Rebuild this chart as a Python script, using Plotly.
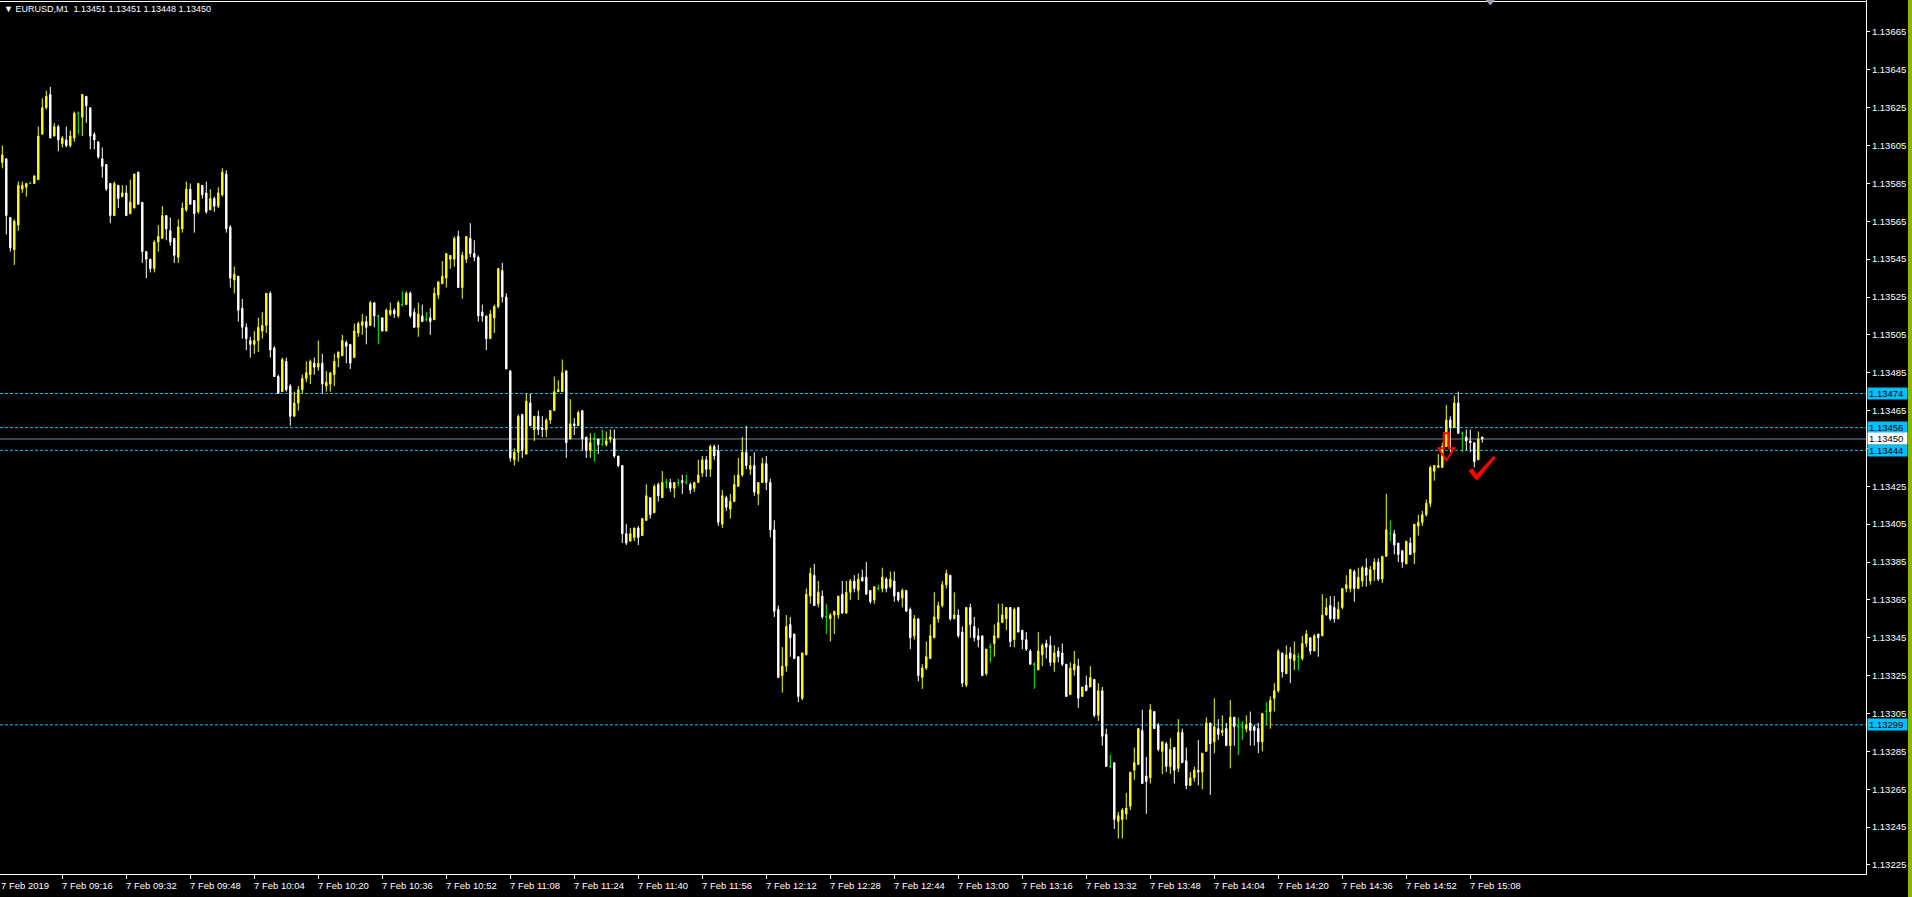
import plotly.graph_objects as go

# ---------------- data (EURUSD M1, 7 Feb 2019, bar index 0 = 09:00) ----------------
open_ = [
1.13596,1.13598,1.13567,1.13550,1.13563,1.13582,1.13583,1.13585,1.13585,1.13587,
1.13611,1.13625,1.13632,1.13610,1.13615,1.13606,1.13608,1.13605,1.13609,1.13622,
1.13620,1.13631,1.13625,1.13611,1.13607,1.13598,1.13595,1.13585,1.13568,1.13584,
1.13578,1.13580,1.13569,1.13572,1.13591,1.13575,1.13549,1.13545,1.13540,1.13554,
1.13556,1.13568,1.13560,1.13556,1.13546,1.13561,1.13571,1.13582,1.13576,1.13570,
1.13584,1.13580,1.13571,1.13577,1.13573,1.13579,1.13590,1.13562,1.13534,1.13536,
1.13519,1.13509,1.13502,1.13500,1.13502,1.13507,1.13510,1.13527,1.13498,1.13483,
1.13475,1.13491,1.13478,1.13462,1.13469,1.13476,1.13482,1.13484,1.13490,1.13488,
1.13490,1.13478,1.13479,1.13484,1.13493,1.13494,1.13501,1.13500,1.13493,1.13506,
1.13510,1.13512,1.13510,1.13522,1.13515,1.13514,1.13507,1.13516,1.13518,1.13515,
1.13521,1.13521,1.13527,1.13517,1.13509,1.13515,1.13513,1.13514,1.13513,1.13526,
1.13532,1.13535,1.13545,1.13545,1.13557,1.13530,1.13545,1.13556,1.13548,1.13546,
1.13517,1.13515,1.13503,1.13514,1.13520,1.13539,1.13525,1.13486,1.13439,1.13443,
1.13463,1.13442,1.13469,1.13455,1.13462,1.13456,1.13455,1.13460,1.13465,1.13475,
1.13475,1.13486,1.13450,1.13458,1.13457,1.13465,1.13451,1.13444,1.13450,1.13450,
1.13447,1.13447,1.13450,1.13450,1.13441,1.13436,1.13400,1.13396,1.13398,1.13403,
1.13399,1.13407,1.13419,1.13411,1.13426,1.13419,1.13427,1.13427,1.13424,1.13427,
1.13428,1.13427,1.13426,1.13424,1.13427,1.13432,1.13439,1.13434,1.13446,1.13444,
1.13405,1.13419,1.13413,1.13417,1.13425,1.13431,1.13443,1.13434,1.13436,1.13421,
1.13427,1.13437,1.13427,1.13402,1.13360,1.13325,1.13330,1.13352,1.13347,1.13335,
1.13313,1.13336,1.13367,1.13378,1.13363,1.13367,1.13356,1.13355,1.13357,1.13357,
1.13368,1.13358,1.13369,1.13375,1.13370,1.13377,1.13377,1.13370,1.13365,1.13371,
1.13371,1.13376,1.13372,1.13375,1.13369,1.13366,1.13370,1.13360,1.13346,1.13355,
1.13324,1.13329,1.13334,1.13345,1.13355,1.13362,1.13373,1.13378,1.13355,1.13357,
1.13348,1.13320,1.13361,1.13351,1.13346,1.13346,1.13326,1.13340,1.13342,1.13345,
1.13353,1.13355,1.13361,1.13344,1.13361,1.13349,1.13344,1.13338,1.13331,1.13328,
1.13336,1.13342,1.13341,1.13332,1.13338,1.13337,1.13331,1.13315,1.13328,1.13330,
1.13314,1.13320,1.13319,1.13323,1.13304,1.13317,1.13294,1.13277,1.13279,1.13248,
1.13249,1.13252,1.13256,1.13275,1.13278,1.13296,1.13272,1.13271,1.13306,1.13299,
1.13285,1.13289,1.13277,1.13287,1.13276,1.13295,1.13280,1.13267,1.13271,1.13275,
1.13274,1.13285,1.13300,1.13290,1.13297,1.13295,1.13297,1.13288,1.13303,1.13298,
1.13298,1.13297,1.13300,1.13298,1.13297,1.13290,1.13306,1.13306,1.13313,1.13317,
1.13337,1.13326,1.13337,1.13333,1.13335,1.13334,1.13342,1.13345,1.13338,1.13347,
1.13346,1.13357,1.13362,1.13361,1.13355,1.13361,1.13371,1.13371,1.13380,1.13371,
1.13375,1.13382,1.13375,1.13381,1.13385,1.13376,1.13388,1.13400,1.13400,1.13395,
1.13391,1.13384,1.13395,1.13390,1.13404,1.13406,1.13410,1.13416,1.13433,1.13435,
1.13435,1.13446,1.13460,1.13456,1.13469,1.13453,1.13451,1.13449,1.13448,1.13439,
1.13451]
high = [
1.13605,1.13598,1.13567,1.13566,1.13586,1.13586,1.13585,1.13586,1.13589,1.13615,
1.13630,1.13634,1.13636,1.13617,1.13616,1.13610,1.13615,1.13613,1.13623,1.13623,
1.13632,1.13631,1.13625,1.13612,1.13607,1.13604,1.13595,1.13585,1.13586,1.13584,
1.13584,1.13584,1.13587,1.13590,1.13591,1.13575,1.13549,1.13545,1.13555,1.13563,
1.13573,1.13568,1.13567,1.13556,1.13566,1.13575,1.13586,1.13585,1.13576,1.13585,
1.13584,1.13586,1.13582,1.13578,1.13583,1.13593,1.13592,1.13563,1.13541,1.13536,
1.13524,1.13511,1.13504,1.13507,1.13514,1.13517,1.13527,1.13528,1.13499,1.13484,
1.13493,1.13493,1.13479,1.13475,1.13478,1.13484,1.13491,1.13492,1.13493,1.13502,
1.13495,1.13486,1.13485,1.13495,1.13496,1.13505,1.13502,1.13500,1.13511,1.13512,
1.13516,1.13515,1.13523,1.13522,1.13515,1.13514,1.13519,1.13522,1.13519,1.13523,
1.13528,1.13528,1.13528,1.13519,1.13522,1.13521,1.13517,1.13519,1.13530,1.13533,
1.13544,1.13548,1.13547,1.13557,1.13560,1.13549,1.13557,1.13564,1.13555,1.13547,
1.13521,1.13515,1.13518,1.13521,1.13540,1.13543,1.13527,1.13486,1.13445,1.13463,
1.13463,1.13474,1.13474,1.13462,1.13465,1.13462,1.13461,1.13465,1.13483,1.13481,
1.13492,1.13486,1.13471,1.13461,1.13465,1.13465,1.13451,1.13453,1.13453,1.13450,
1.13455,1.13454,1.13455,1.13455,1.13441,1.13436,1.13405,1.13403,1.13403,1.13404,
1.13408,1.13426,1.13419,1.13426,1.13427,1.13433,1.13429,1.13429,1.13427,1.13429,
1.13431,1.13431,1.13427,1.13427,1.13439,1.13441,1.13441,1.13447,1.13447,1.13447,
1.13423,1.13420,1.13421,1.13431,1.13440,1.13451,1.13457,1.13441,1.13443,1.13427,
1.13440,1.13441,1.13429,1.13407,1.13362,1.13340,1.13357,1.13356,1.13347,1.13335,
1.13337,1.13371,1.13382,1.13384,1.13375,1.13370,1.13363,1.13358,1.13359,1.13367,
1.13375,1.13375,1.13376,1.13378,1.13379,1.13381,1.13385,1.13370,1.13372,1.13373,
1.13382,1.13377,1.13380,1.13380,1.13369,1.13371,1.13370,1.13361,1.13357,1.13355,
1.13331,1.13343,1.13352,1.13369,1.13364,1.13375,1.13381,1.13378,1.13369,1.13360,
1.13351,1.13361,1.13363,1.13356,1.13350,1.13346,1.13339,1.13342,1.13352,1.13363,
1.13363,1.13361,1.13361,1.13361,1.13361,1.13349,1.13348,1.13339,1.13332,1.13348,
1.13342,1.13344,1.13346,1.13341,1.13340,1.13342,1.13331,1.13332,1.13338,1.13334,
1.13319,1.13325,1.13330,1.13323,1.13321,1.13319,1.13297,1.13283,1.13279,1.13253,
1.13255,1.13263,1.13274,1.13287,1.13297,1.13307,1.13282,1.13310,1.13306,1.13300,
1.13290,1.13290,1.13292,1.13287,1.13302,1.13297,1.13287,1.13274,1.13277,1.13291,
1.13284,1.13303,1.13300,1.13313,1.13302,1.13304,1.13300,1.13312,1.13303,1.13303,
1.13301,1.13304,1.13306,1.13299,1.13300,1.13305,1.13311,1.13314,1.13321,1.13339,
1.13337,1.13341,1.13340,1.13343,1.13337,1.13346,1.13349,1.13345,1.13347,1.13347,
1.13368,1.13366,1.13367,1.13367,1.13364,1.13371,1.13378,1.13381,1.13381,1.13382,
1.13383,1.13387,1.13383,1.13387,1.13387,1.13388,1.13421,1.13407,1.13402,1.13395,
1.13391,1.13396,1.13398,1.13405,1.13410,1.13412,1.13418,1.13436,1.13436,1.13442,
1.13448,1.13468,1.13462,1.13473,1.13475,1.13454,1.13455,1.13455,1.13448,1.13454,
1.13451]
low = [
1.13593,1.13558,1.13549,1.13542,1.13560,1.13580,1.13578,1.13585,1.13585,1.13587,
1.13611,1.13624,1.13609,1.13610,1.13602,1.13604,1.13604,1.13604,1.13607,1.13611,
1.13610,1.13617,1.13603,1.13603,1.13598,1.13588,1.13581,1.13564,1.13568,1.13572,
1.13578,1.13568,1.13569,1.13572,1.13574,1.13543,1.13535,1.13538,1.13538,1.13549,
1.13556,1.13555,1.13552,1.13543,1.13543,1.13559,1.13570,1.13574,1.13559,1.13569,
1.13577,1.13569,1.13571,1.13570,1.13572,1.13578,1.13559,1.13530,1.13527,1.13512,
1.13503,1.13497,1.13493,1.13495,1.13496,1.13503,1.13506,1.13493,1.13483,1.13474,
1.13475,1.13475,1.13457,1.13462,1.13465,1.13474,1.13480,1.13479,1.13484,1.13486,
1.13474,1.13475,1.13475,1.13478,1.13488,1.13494,1.13490,1.13487,1.13493,1.13504,
1.13505,1.13500,1.13510,1.13509,1.13500,1.13507,1.13507,1.13515,1.13514,1.13514,
1.13520,1.13521,1.13514,1.13509,1.13504,1.13512,1.13512,1.13505,1.13513,1.13524,
1.13532,1.13530,1.13540,1.13541,1.13530,1.13524,1.13543,1.13546,1.13544,1.13512,
1.13512,1.13497,1.13503,1.13506,1.13519,1.13522,1.13487,1.13438,1.13436,1.13438,
1.13440,1.13442,1.13457,1.13449,1.13452,1.13451,1.13451,1.13458,1.13465,1.13475,
1.13475,1.13440,1.13450,1.13452,1.13457,1.13444,1.13440,1.13440,1.13438,1.13442,
1.13447,1.13446,1.13448,1.13440,1.13435,1.13395,1.13394,1.13396,1.13396,1.13394,
1.13399,1.13407,1.13408,1.13411,1.13417,1.13419,1.13424,1.13422,1.13419,1.13425,
1.13421,1.13426,1.13421,1.13422,1.13427,1.13430,1.13430,1.13430,1.13439,1.13404,
1.13403,1.13412,1.13408,1.13417,1.13425,1.13430,1.13434,1.13431,1.13420,1.13415,
1.13427,1.13423,1.13398,1.13356,1.13324,1.13316,1.13327,1.13335,1.13334,1.13311,
1.13312,1.13336,1.13363,1.13362,1.13361,1.13355,1.13347,1.13343,1.13347,1.13355,
1.13358,1.13358,1.13365,1.13369,1.13365,1.13375,1.13368,1.13363,1.13363,1.13370,
1.13369,1.13369,1.13371,1.13364,1.13364,1.13361,1.13359,1.13339,1.13344,1.13322,
1.13318,1.13328,1.13334,1.13345,1.13353,1.13361,1.13371,1.13354,1.13355,1.13345,
1.13319,1.13319,1.13345,1.13343,1.13340,1.13325,1.13325,1.13332,1.13335,1.13345,
1.13353,1.13349,1.13340,1.13340,1.13348,1.13339,1.13338,1.13331,1.13318,1.13328,
1.13330,1.13334,1.13330,1.13327,1.13332,1.13330,1.13314,1.13315,1.13325,1.13308,
1.13314,1.13317,1.13319,1.13303,1.13301,1.13288,1.13277,1.13276,1.13244,1.13239,
1.13239,1.13249,1.13254,1.13270,1.13278,1.13268,1.13252,1.13268,1.13297,1.13285,
1.13273,1.13274,1.13273,1.13268,1.13274,1.13279,1.13265,1.13267,1.13269,1.13267,
1.13265,1.13285,1.13262,1.13284,1.13291,1.13293,1.13288,1.13276,1.13288,1.13283,
1.13291,1.13295,1.13288,1.13288,1.13284,1.13285,1.13299,1.13297,1.13306,1.13316,
1.13324,1.13326,1.13321,1.13328,1.13328,1.13333,1.13340,1.13336,1.13338,1.13335,
1.13346,1.13357,1.13354,1.13353,1.13355,1.13360,1.13369,1.13369,1.13364,1.13371,
1.13372,1.13372,1.13373,1.13375,1.13375,1.13374,1.13388,1.13396,1.13389,1.13385,
1.13382,1.13384,1.13389,1.13384,1.13399,1.13404,1.13409,1.13414,1.13428,1.13435,
1.13435,1.13446,1.13443,1.13456,1.13453,1.13443,1.13444,1.13443,1.13435,1.13439,
1.13448]
close = [
1.13600,1.13568,1.13551,1.13565,1.13584,1.13584,1.13585,1.13585,1.13589,1.13610,
1.13625,1.13631,1.13609,1.13615,1.13608,1.13609,1.13605,1.13610,1.13622,1.13622,
1.13632,1.13626,1.13610,1.13608,1.13599,1.13594,1.13582,1.13568,1.13585,1.13577,
1.13580,1.13568,1.13575,1.13590,1.13574,1.13549,1.13545,1.13540,1.13554,1.13557,
1.13568,1.13561,1.13554,1.13547,1.13562,1.13572,1.13582,1.13574,1.13569,1.13585,
1.13579,1.13570,1.13577,1.13573,1.13580,1.13591,1.13561,1.13535,1.13537,1.13518,
1.13509,1.13503,1.13500,1.13502,1.13509,1.13510,1.13527,1.13497,1.13483,1.13474,
1.13492,1.13476,1.13462,1.13469,1.13476,1.13482,1.13485,1.13491,1.13488,1.13490,
1.13479,1.13480,1.13485,1.13491,1.13496,1.13502,1.13499,1.13490,1.13507,1.13511,
1.13512,1.13509,1.13522,1.13515,1.13515,1.13507,1.13518,1.13518,1.13516,1.13522,
1.13521,1.13527,1.13515,1.13509,1.13516,1.13512,1.13513,1.13512,1.13527,1.13533,
1.13536,1.13548,1.13547,1.13556,1.13530,1.13547,1.13557,1.13548,1.13546,1.13515,
1.13515,1.13503,1.13516,1.13520,1.13540,1.13525,1.13487,1.13440,1.13443,1.13462,
1.13444,1.13470,1.13457,1.13462,1.13455,1.13455,1.13460,1.13465,1.13475,1.13476,
1.13485,1.13448,1.13458,1.13457,1.13464,1.13450,1.13444,1.13448,1.13450,1.13447,
1.13447,1.13449,1.13451,1.13441,1.13436,1.13400,1.13395,1.13400,1.13403,1.13398,
1.13408,1.13420,1.13410,1.13425,1.13420,1.13427,1.13427,1.13424,1.13427,1.13427,
1.13427,1.13427,1.13423,1.13427,1.13431,1.13439,1.13434,1.13446,1.13441,1.13406,
1.13420,1.13414,1.13417,1.13426,1.13431,1.13443,1.13436,1.13436,1.13422,1.13427,
1.13437,1.13427,1.13402,1.13359,1.13324,1.13330,1.13351,1.13345,1.13334,1.13314,
1.13337,1.13368,1.13379,1.13362,1.13369,1.13356,1.13356,1.13357,1.13359,1.13367,
1.13358,1.13369,1.13375,1.13371,1.13376,1.13375,1.13368,1.13364,1.13372,1.13371,
1.13377,1.13371,1.13376,1.13367,1.13365,1.13370,1.13359,1.13345,1.13355,1.13325,
1.13329,1.13335,1.13346,1.13356,1.13362,1.13373,1.13379,1.13355,1.13357,1.13346,
1.13321,1.13361,1.13352,1.13345,1.13344,1.13325,1.13339,1.13340,1.13346,1.13353,
1.13357,1.13361,1.13343,1.13360,1.13348,1.13344,1.13339,1.13331,1.13331,1.13338,
1.13341,1.13340,1.13332,1.13337,1.13335,1.13331,1.13314,1.13329,1.13331,1.13313,
1.13319,1.13317,1.13324,1.13304,1.13317,1.13293,1.13277,1.13277,1.13249,1.13251,
1.13254,1.13255,1.13274,1.13279,1.13297,1.13268,1.13269,1.13307,1.13297,1.13286,
1.13290,1.13277,1.13286,1.13275,1.13295,1.13279,1.13267,1.13271,1.13275,1.13274,
1.13284,1.13300,1.13289,1.13298,1.13294,1.13296,1.13288,1.13303,1.13298,1.13298,
1.13298,1.13299,1.13296,1.13296,1.13290,1.13305,1.13306,1.13312,1.13317,1.13338,
1.13327,1.13336,1.13334,1.13336,1.13335,1.13342,1.13347,1.13338,1.13346,1.13345,
1.13357,1.13361,1.13355,1.13355,1.13360,1.13371,1.13373,1.13381,1.13371,1.13377,
1.13382,1.13378,1.13381,1.13385,1.13376,1.13388,1.13402,1.13400,1.13394,1.13389,
1.13385,1.13396,1.13389,1.13405,1.13406,1.13410,1.13416,1.13435,1.13436,1.13436,
1.13446,1.13460,1.13456,1.13469,1.13453,1.13453,1.13449,1.13448,1.13438,1.13450,
1.13450]

time_labels = ["7 Feb 2019", "7 Feb 09:16", "7 Feb 09:32", "7 Feb 09:48", "7 Feb 10:04",
               "7 Feb 10:20", "7 Feb 10:36", "7 Feb 10:52", "7 Feb 11:08", "7 Feb 11:24",
               "7 Feb 11:40", "7 Feb 11:56", "7 Feb 12:12", "7 Feb 12:28", "7 Feb 12:44",
               "7 Feb 13:00", "7 Feb 13:16", "7 Feb 13:32", "7 Feb 13:48", "7 Feb 14:04",
               "7 Feb 14:20", "7 Feb 14:36", "7 Feb 14:52", "7 Feb 15:08"]
time_label_bars = [16 * k - 1 for k in range(len(time_labels))]

price_ticks = [round(1.13225 + 0.0002 * k, 5) for k in range(23)]
level_lines = [1.13474, 1.13456, 1.13444, 1.13299]   # dashed horizontal levels
bid_price = 1.13450
header = "EURUSD,M1  1.13451 1.13451 1.13448 1.13450"

# user drawn marks: (bar index, price) anchors
arrow_anchor = (361.0, 1.13453)
check_anchor = (368.6, 1.13429)
shift_marker_bar = 372

# ---------------- figure ----------------
W, H = 1912, 897
ML, MR, MT, MB = 0, 46, 0, 23
PW, PH = W - ML - MR, H - MT - MB
PX_PER_BAR = 4.0
X0 = -0.575
XR = [X0, X0 + PW / PX_PER_BAR]
YR = [1.1322020, 1.1368190]

YELLOW, WHITE, GREEN = "#FFFF00", "#FFFFFF", "#00FF00"
CYAN = "#00BFFF"
FONT = "Liberation Sans"
FS = 9.5

n = len(close)
groups = {"up": [], "down": [], "doji": []}
for i in range(n):
    if close[i] > open_[i]:
        groups["up"].append(i)
    elif close[i] < open_[i]:
        groups["down"].append(i)
    else:
        groups["doji"].append(i)

fig = go.Figure()
for key, col in (("up", YELLOW), ("down", WHITE), ("doji", GREEN)):
    idx = groups[key]
    fig.add_trace(go.Candlestick(
        x=idx,
        open=[open_[i] for i in idx], high=[high[i] for i in idx],
        low=[low[i] for i in idx], close=[close[i] for i in idx],
        increasing=dict(line=dict(color=col, width=1), fillcolor=col),
        decreasing=dict(line=dict(color=col, width=1), fillcolor=col),
        whiskerwidth=0, showlegend=False, hoverinfo="skip",
    ))

shapes = []
for lv in level_lines:
    shapes.append(dict(type="line", xref="paper", yref="y", x0=0, x1=1, y0=lv, y1=lv,
                       line=dict(color=CYAN, width=1, dash="3px,2px"), layer="below"))
shapes.append(dict(type="line", xref="paper", yref="y", x0=0, x1=1, y0=bid_price, y1=bid_price,
                   line=dict(color="#778899", width=1), layer="below"))
# frame top line
shapes.append(dict(type="line", xref="paper", yref="paper", x0=0, x1=1,
                   y0=1 - 1.5 / PH, y1=1 - 1.5 / PH, line=dict(color=WHITE, width=1)))
# right window strip
shapes.append(dict(type="rect", xref="paper", yref="paper", x0=1 + 42 / PW, x1=1 + 46 / PW,
                   y0=-MB / PH, y1=1, line=dict(width=0), fillcolor="#8DB600"))

bx = 1 / PX_PER_BAR          # bars per pixel
py = (YR[1] - YR[0]) / PH    # price per pixel

def pix_path(anchor, pts):
    # pts: pixel offsets (dx right, dy down) around a (bar, price) anchor
    a_x, a_y = anchor
    return "M " + " L ".join(f"{a_x + dx * bx},{a_y - dy * py}" for dx, dy in pts) + " Z"

# red outline arrow pointing down
arrow_pts = [(-2.5, 0), (2.5, 0), (2.5, 15), (8, 15), (0, 27), (-8, 15), (-2.5, 15)]
shapes.append(dict(type="path", xref="x", yref="y", path=pix_path(arrow_anchor, arrow_pts),
                   line=dict(color="#FF0000", width=2)))
# red check mark (anchor = bottom vertex)
check_pts = [(-7.5, -8), (-4.5, -10), (0, -4), (17, -22.5), (18.5, -21), (1, 0.5), (-1, 0.5)]
shapes.append(dict(type="path", xref="x", yref="y", path=pix_path(check_anchor, check_pts),
                   line=dict(color="#FF0000", width=1), fillcolor="#FF0000"))
# chart shift marker (small grey triangle at top)
shift_pts = [(-4, 0), (4, 0), (0, 5)]
shapes.append(dict(type="path", xref="x", yref="y",
                   path=pix_path((shift_marker_bar, YR[1]), shift_pts),
                   line=dict(color="#9A9AA8", width=1), fillcolor="#9A9AA8"))

annotations = []
for k, (b, t) in enumerate(zip(time_label_bars, time_labels)):
    if k == 0:
        annotations.append(dict(x=0, xref="paper", y=0, yref="paper", yanchor="top",
                                xanchor="left", yshift=-4, xshift=-1, text=t, showarrow=False,
                                font=dict(family=FONT, size=FS, color=WHITE)))
    else:
        annotations.append(dict(x=b, xref="x", y=0, yref="paper", yanchor="top", xanchor="left",
                                yshift=-4, xshift=-2, text=t, showarrow=False,
                                font=dict(family=FONT, size=FS, color=WHITE)))
for lv, bg, fg in ((1.13474, CYAN, "#000000"), (1.13456, CYAN, "#000000"),
                   (1.13444, CYAN, "#000000"), (1.13299, CYAN, "#000000"),
                   (bid_price, WHITE, "#000000")):
    annotations.append(dict(x=1, xref="paper", y=lv, yref="y", xanchor="left", yanchor="middle",
                            xshift=1, text=f"{lv:.5f}", showarrow=False, bgcolor=bg,
                            width=37, height=9, align="left", borderpad=1,
                            font=dict(family=FONT, size=FS, color=fg)))
annotations.append(dict(x=0, xref="paper", y=1, yref="paper", xanchor="left", yanchor="middle",
                        xshift=2, yshift=-9, text="\u25BC " + header.replace("  ", "&nbsp; "),
                        showarrow=False, font=dict(family=FONT, size=9, color=WHITE)))

fig.update_layout(
    width=W, height=H, margin=dict(l=ML, r=MR, t=MT, b=MB),
    paper_bgcolor="#000000", plot_bgcolor="#000000",
    boxgap=0.5, showlegend=False, shapes=shapes, annotations=annotations,
    xaxis=dict(range=XR, rangeslider=dict(visible=False), showgrid=False, zeroline=False,
               showline=True, linecolor=WHITE, linewidth=1,
               tickmode="array", tickvals=time_label_bars, ticktext=[""] * len(time_labels),
               ticks="outside", ticklen=4, tickcolor=WHITE, tickwidth=1),
    yaxis=dict(range=YR, side="right", showgrid=False, zeroline=False,
               showline=True, linecolor=WHITE, linewidth=1,
               tickmode="array", tickvals=price_ticks, ticktext=[f"{p:.5f}" for p in price_ticks],
               ticks="outside", ticklen=3, tickcolor=WHITE, tickwidth=1,
               tickfont=dict(family=FONT, size=FS, color=WHITE)),
)

fig.write_html("out.html", config=dict(displayModeBar=False),
               post_script="document.body.style.margin='0';document.body.style.overflow='hidden';")
